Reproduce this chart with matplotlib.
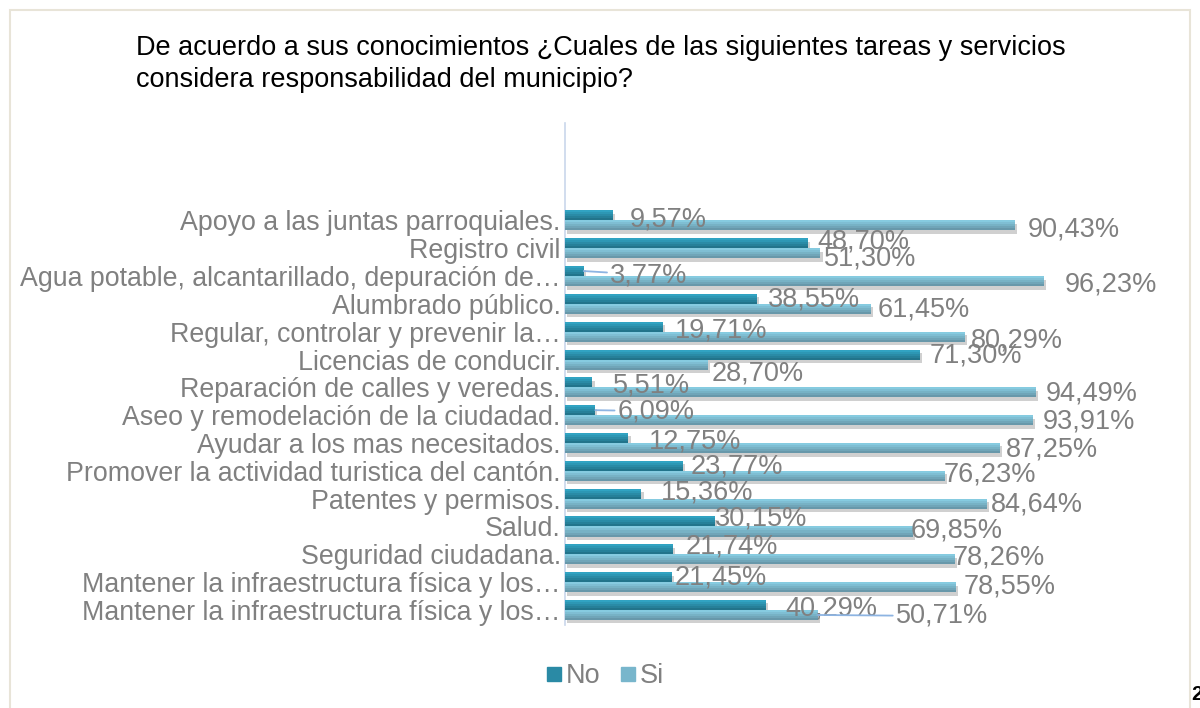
import matplotlib.pyplot as plt
import matplotlib.patheffects as pe
from matplotlib.patches import Rectangle
from matplotlib.lines import Line2D
import numpy as np

plt.rcParams['font.family'] = ['Liberation Sans', 'DejaVu Sans']

# data
categories = [
    "Apoyo a las juntas parroquiales.",
    "Registro civil",
    "Agua potable, alcantarillado, depuración de…",
    "Alumbrado público.",
    "Regular, controlar y prevenir la…",
    "Licencias de conducir.",
    "Reparación de calles y veredas.",
    "Aseo y remodelación de la ciudadad.",
    "Ayudar a los mas necesitados.",
    "Promover la actividad turistica del cantón.",
    "Patentes y permisos.",
    "Salud.",
    "Seguridad ciudadana.",
    "Mantener la infraestructura física y los…",
    "Mantener la infraestructura física y los…",
]
no_vals = [9.57, 48.70, 3.77, 38.55, 19.71, 71.30, 5.51, 6.09, 12.75,
           23.77, 15.36, 30.15, 21.74, 21.45, 40.29]
si_vals = [90.43, 51.30, 96.23, 61.45, 80.29, 28.70, 94.49, 93.91, 87.25,
           76.23, 84.64, 69.85, 78.26, 78.55, 50.71]

# label nudges (pixels: dx right, dy down) as placed in the original
no_dx = [12, 5, 21, 6, 7, 5, 16, 17, 15, 2, 14, -5, 7, -2, 15]
no_dy = [3, -3, 3, 0, 3, 0, 2, 0, 2, 0, -2, -4, -4, -1, 3]
si_dx = [7, -2, 16, 2, 1, -1, 5, 5, 1, -6, -1, -7, -7, 2, 73]
si_dy = [3, 4, 2, 0, 3, 8, 0, 0, 0, -2, 0, -2, -3, -2, 0]
no_leader = [2, 7]
si_leader = [14]

W, H = 1200, 708
fig = plt.figure(figsize=(W / 100, H / 100), dpi=100)
ax = fig.add_axes([565 / W, 1 - 625 / H, 498 / W, 502 / H])

y = np.arange(len(categories))
bh = 0.36


def grad_bars(pos, vals, top, bottom, n=5):
    base = ax.barh(pos, vals, height=bh, color=bottom, zorder=2)
    for b in base:
        b.set_path_effects([pe.SimplePatchShadow(offset=(1.5, -2.5), shadow_rgbFace='#8a8a8a', alpha=0.4),
                            pe.Normal()])
    c1 = np.array(plt.matplotlib.colors.to_rgb(top))
    c2 = np.array(plt.matplotlib.colors.to_rgb(bottom))
    for k in range(n):
        f = k / (n - 1)
        col = c1 * (1 - f) + c2 * f
        off = -bh / 2 + (k + 0.5) * bh / n
        ax.barh(pos + off, vals, height=bh / n, color=col, zorder=3, linewidth=0)


grad_bars(y - bh / 2, no_vals, '#31A3C2', '#22748B')
grad_bars(y + bh / 2, si_vals, '#86CBE0', '#6898AA')

lab_color = '#808080'
for i in range(len(categories)):
    for vals, dx, dy, pos, leaders in ((no_vals, no_dx, no_dy, y[i] - bh / 2, no_leader),
                                       (si_vals, si_dx, si_dy, y[i] + bh / 2, si_leader)):
        txt = f"{vals[i]:.2f}%".replace('.', ',')
        arrow = None
        if i in leaders:
            arrow = dict(arrowstyle='-', color='#8DB4E2', lw=1.3, shrinkA=0, shrinkB=0)
        ax.annotate(txt, xy=(vals[i], pos), xytext=(5 + dx[i], -dy[i] - 1),
                    textcoords='offset pixels', ha='left', va='center',
                    fontsize=19.5, color=lab_color, arrowprops=arrow, zorder=5,
                    annotation_clip=False)

ax.set_xlim(0, 100)
ax.set_ylim(14.54, -3.5)
ax.set_yticks(y)
ax.set_yticklabels(categories, fontsize=19.3, color=lab_color)
ax.tick_params(axis='y', length=0, pad=3)
ax.set_xticks([])
for s in ['top', 'right', 'bottom']:
    ax.spines[s].set_visible(False)
ax.spines['left'].set_color('#C9D7EB')
ax.spines['left'].set_linewidth(1.2)

fig.text(136 / W, 1 - 35 / H,
         "De acuerdo a sus conocimientos ¿Cuales de las siguientes tareas y servicios\n"
         "considera responsabilidad del municipio?",
         ha='left', va='top', fontsize=19.5, color='black', linespacing=1.3)

handles = [Line2D([], [], marker='s', linestyle='', markersize=10, color='#2A8AA5'),
           Line2D([], [], marker='s', linestyle='', markersize=10, color='#78B6CC')]
fig.legend(handles, ['No', 'Si'], loc='center', bbox_to_anchor=(605 / W, 1 - 676 / H),
           ncol=2, frameon=False, fontsize=19.5, labelcolor=lab_color,
           handlelength=0.6, handletextpad=0.15, columnspacing=0.7)

fig.patches.append(Rectangle((10 / W, -0.02), 1180 / W, 1 - 10 / H + 0.02, fill=False,
                             edgecolor='#E8E4D8', linewidth=1.5, transform=fig.transFigure))
fig.text(1191 / W, 1 - 694 / H, '2', fontsize=15, fontweight='bold', ha='left', va='center')

fig.savefig('out.png', dpi=100)
